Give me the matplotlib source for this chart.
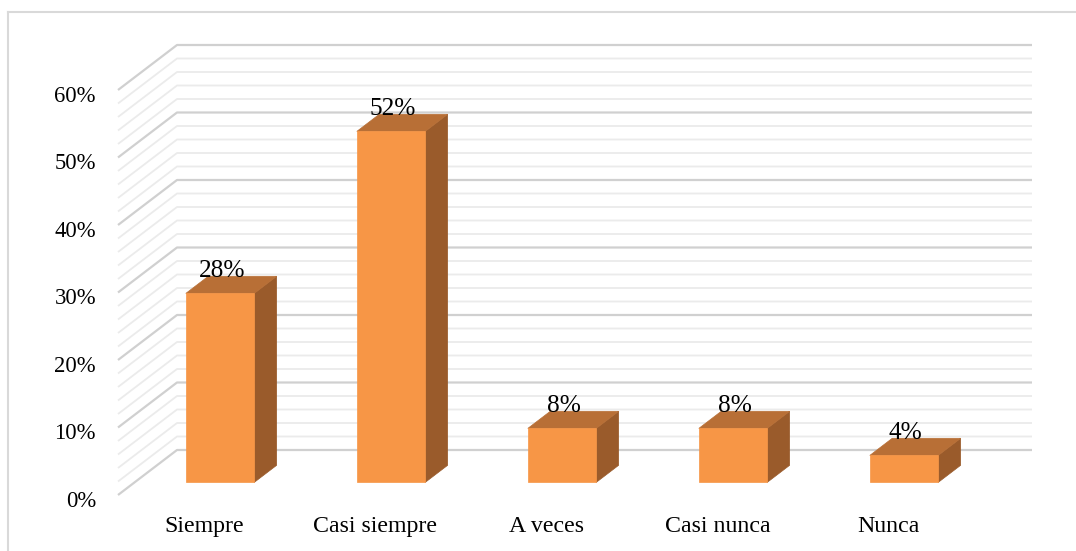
import matplotlib
matplotlib.use("Agg")
import matplotlib.pyplot as plt
from matplotlib.patches import Polygon
import numpy as np

categories = ["Siempre", "Casi siempre", "A veces", "Casi nunca", "Nunca"]
values = [28, 52, 8, 8, 4]
value_labels = ["28%", "52%", "8%", "8%", "4%"]
y_ticks = [0, 10, 20, 30, 40, 50, 60]
y_tick_labels = ["0%", "10%", "20%", "30%", "40%", "50%", "60%"]

W, H = 1076, 551
fig = plt.figure(figsize=(W / 100, H / 100), dpi=100)
ax = fig.add_axes([0, 0, 1, 1])

# pixel geometry of the oblique projection
px_cat = 171.0      # pixels per category
px_pct = 6.75       # pixels per percent
x0_px, y0_px = 118.0, 495.0
ax.set_xlim(-x0_px / px_cat, (W - x0_px) / px_cat)
ax.set_ylim((y0_px - H) / px_pct, y0_px / px_pct)
ax.axis("off")

# depth vector for depth = 1 (wall)
DX = 59.0 / px_cat
DY = 45.0 / px_pct

def proj(x, v, d):
    return (x + d * DX, v + d * DY)

ymax = 60
ncat = len(categories)

# gridlines (left wall + back wall)
for g in np.arange(0, ymax + 0.01, 2):
    major = abs(g % 10) < 1e-9
    col = "#d0d0d0" if major else "#ebebeb"
    lw = 1.6 if major else 1.3
    a = proj(0, g, 0)
    b = proj(0, g, 1)
    c = proj(ncat, g, 1)
    ax.plot([a[0], b[0], c[0]], [a[1], b[1], c[1]], color=col, lw=lw,
            solid_capstyle="butt", zorder=1)

# bars
front_col = "#f79646"
top_col = "#b86f36"
side_col = "#9a5b2b"
bw = 0.40
d0, d1 = 0.28, 0.66
for i, v in enumerate(values):
    xl = i + 0.5 - bw / 2
    xr = i + 0.5 + bw / 2
    front = [proj(xl, 0, d0), proj(xr, 0, d0), proj(xr, v, d0), proj(xl, v, d0)]
    top = [proj(xl, v, d0), proj(xr, v, d0), proj(xr, v, d1), proj(xl, v, d1)]
    side = [proj(xr, 0, d0), proj(xr, 0, d1), proj(xr, v, d1), proj(xr, v, d0)]
    ax.add_patch(Polygon(side, closed=True, facecolor=side_col, edgecolor=side_col, lw=0.5, zorder=3))
    ax.add_patch(Polygon(top, closed=True, facecolor=top_col, edgecolor=top_col, lw=0.5, zorder=3))
    ax.add_patch(Polygon(front, closed=True, facecolor=front_col, edgecolor=front_col, lw=0.5, zorder=4))
    cx, cy = proj(i + 0.5, v, d0)
    ax.text(cx + 0.01, cy + 3.3, value_labels[i], ha="center", va="center",
            fontsize=18.3, family="Liberation Serif", color="black", zorder=5)

# tick labels
for t, lab in zip(y_ticks, y_tick_labels):
    ax.text(-22 / px_cat, t - 0.9, lab, ha="right", va="center", fontsize=16.3,
            family="Liberation Serif", color="black")

# category labels
for i, lab in enumerate(categories):
    ax.text(i + 0.5 + 0.005, -4.6, lab, ha="center", va="center", fontsize=17.2,
            family="Liberation Serif", color="black")

# outer border (top and left visible)
bx = (8 - x0_px) / px_cat
by = (y0_px - 12) / px_pct
ax.plot([bx, ax.get_xlim()[1] + 1], [by, by], color="#d9d9d9", lw=1.5, zorder=0, clip_on=False)
ax.plot([bx, bx], [by, ax.get_ylim()[0] - 1], color="#d9d9d9", lw=1.5, zorder=0, clip_on=False)

fig.savefig("out.png", dpi=100)
